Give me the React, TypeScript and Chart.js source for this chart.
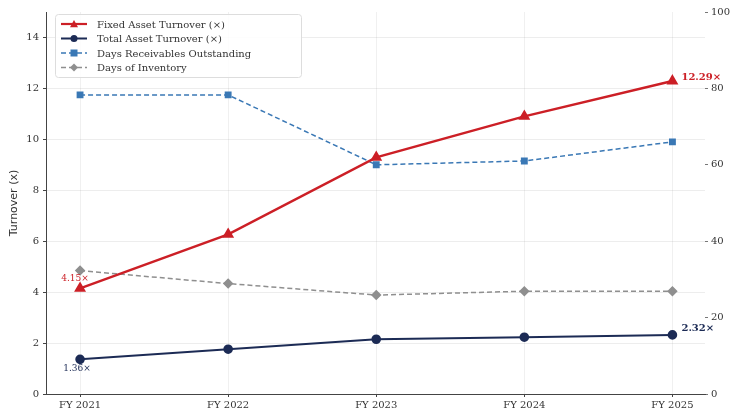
import React, { useEffect, useRef } from "react";
import { Chart, registerables } from "chart.js";
Chart.register(...registerables);

const categories = ["FY 2021", "FY 2022", "FY 2023", "FY 2024", "FY 2025"];
const fixedAssetTurnover = [4.15, 6.27, 9.29, 10.9, 12.29];
const totalAssetTurnover = [1.36, 1.76, 2.15, 2.23, 2.32];
const daysReceivables = [78.3, 78.3, 60.0, 61.0, 66.0];
const daysInventory = [32.3, 28.9, 25.9, 26.9, 26.9];
const leftTicks = [0, 2, 4, 6, 8, 10, 12, 14];
const rightTicks = [0, 20, 40, 60, 80, 100];

const FONT = "'DejaVu Serif', 'Liberation Serif', serif";
const SANS = "'DejaVu Sans', sans-serif";
const RED = "#cc1f26";
const NAVY = "#1c2b55";
const BLUE = "#3a78b5";
const GREY = "#8f8f8f";

const toXY = (arr: number[]) => arr.map((v, i) => ({ x: i, y: v }));

export default function App() {
  const ref = useRef<HTMLCanvasElement | null>(null);
  useEffect(() => {
    document.body.style.margin = "0";
    const ctx = ref.current!.getContext("2d")!;
    const legendItems = [
      { label: "Fixed Asset Turnover (×)", color: RED, style: "triangle", dash: [] as number[], lw: 2.2 },
      { label: "Total Asset Turnover (×)", color: NAVY, style: "circle", dash: [] as number[], lw: 2 },
      { label: "Days Receivables Outstanding", color: BLUE, style: "rect", dash: [5, 3], lw: 1.5 },
      { label: "Days of Inventory", color: GREY, style: "rectRot", dash: [5, 3], lw: 1.5 },
    ];
    function drawMarker(c: CanvasRenderingContext2D, style: string, x: number, y: number, color: string) {
      c.fillStyle = color;
      c.beginPath();
      const r = 4;
      if (style === "triangle") {
        c.moveTo(x, y - r);
        c.lineTo(x + r, y + r * 0.8);
        c.lineTo(x - r, y + r * 0.8);
        c.closePath();
      } else if (style === "circle") {
        c.arc(x, y, r - 0.5, 0, Math.PI * 2);
      } else if (style === "rect") {
        c.rect(x - 3.5, y - 3.5, 7, 7);
      } else {
        c.moveTo(x, y - r);
        c.lineTo(x + r, y);
        c.lineTo(x, y + r);
        c.lineTo(x - r, y);
        c.closePath();
      }
      c.fill();
    }
    const overlay = {
      id: "overlay",
      afterDatasetsDraw(chart: any) {
        const c = chart.ctx;
        const xs = chart.scales.x;
        const yl = chart.scales.y;
        c.save();
        c.textBaseline = "middle";
        c.font = `bold 10px ${FONT}`;
        c.fillStyle = RED;
        c.textAlign = "left";
        c.fillText(`${fixedAssetTurnover[4].toFixed(2)}×`, xs.getPixelForValue(4) + 9, yl.getPixelForValue(fixedAssetTurnover[4]) - 4);
        c.fillStyle = NAVY;
        c.fillText(`${totalAssetTurnover[4].toFixed(2)}×`, xs.getPixelForValue(4) + 9, yl.getPixelForValue(totalAssetTurnover[4]) - 7);
        c.font = `9px ${FONT}`;
        c.textAlign = "center";
        c.fillStyle = RED;
        c.fillText(`${fixedAssetTurnover[0].toFixed(2)}×`, xs.getPixelForValue(0) - 5, yl.getPixelForValue(fixedAssetTurnover[0]) - 10);
        c.fillStyle = NAVY;
        c.fillText(`${totalAssetTurnover[0].toFixed(2)}×`, xs.getPixelForValue(0) - 3, yl.getPixelForValue(totalAssetTurnover[0]) + 9);
        const bx = chart.chartArea.left + 9, by = chart.chartArea.top + 2, bw = 246, bh = 63;
        c.fillStyle = "rgba(255,255,255,0.85)";
        c.strokeStyle = "#dddddd";
        c.lineWidth = 1;
        c.beginPath();
        if (c.roundRect) c.roundRect(bx + 0.5, by + 0.5, bw, bh, 3);
        else c.rect(bx + 0.5, by + 0.5, bw, bh);
        c.fill();
        c.stroke();
        legendItems.forEach((it, i) => {
          const y = by + 10 + i * 14.5;
          const x0 = bx + 6, x1 = bx + 32;
          c.strokeStyle = it.color;
          c.lineWidth = it.lw;
          c.setLineDash(it.dash);
          c.beginPath();
          c.moveTo(x0, y);
          c.lineTo(x1, y);
          c.stroke();
          c.setLineDash([]);
          drawMarker(c, it.style, (x0 + x1) / 2, y, it.color);
          c.fillStyle = "#333";
          c.font = `10px ${FONT}`;
          c.textAlign = "left";
          c.fillText(it.label, bx + 42, y + 1);
        });
        c.restore();
      },
    };
    const chart = new Chart(ctx, {
      type: "line",
      data: {
        datasets: [
          {
            label: "Fixed Asset Turnover (×)",
            data: toXY(fixedAssetTurnover),
            borderColor: RED,
            backgroundColor: RED,
            borderWidth: 2.4,
            pointStyle: "triangle",
            pointRadius: 4.5,
            yAxisID: "y",
          },
          {
            label: "Total Asset Turnover (×)",
            data: toXY(totalAssetTurnover),
            borderColor: NAVY,
            backgroundColor: NAVY,
            borderWidth: 2,
            pointStyle: "circle",
            pointRadius: 3.8,
            yAxisID: "y",
          },
          {
            label: "Days Receivables Outstanding",
            data: toXY(daysReceivables),
            borderColor: BLUE,
            backgroundColor: BLUE,
            borderWidth: 1.5,
            borderDash: [5, 3],
            pointStyle: "rect",
            pointRadius: 3.8,
            yAxisID: "y1",
          },
          {
            label: "Days of Inventory",
            data: toXY(daysInventory),
            borderColor: GREY,
            backgroundColor: GREY,
            borderWidth: 1.5,
            borderDash: [5, 3],
            pointStyle: "rectRot",
            pointRadius: 4.2,
            yAxisID: "y1",
          },
        ],
      },
      options: {
        animation: false,
        responsive: false,
        layout: { padding: { top: 12, left: 0, right: 0, bottom: 0 } },
        plugins: { legend: { display: false }, tooltip: { enabled: false } },
        scales: {
          x: {
            type: "linear",
            min: -0.23,
            max: 4.22,
            afterBuildTicks: (s: any) => {
              s.ticks = categories.map((_, i) => ({ value: i }));
            },
            afterFit: (s: any) => {
              s.height = 17;
            },
            ticks: {
              callback: (v: any) => categories[v] ?? "",
              font: { family: FONT, size: 10 },
              color: "#333",
              maxRotation: 0,
              padding: 2,
            },
            grid: { color: "rgba(0,0,0,0.06)", tickColor: "#444", tickLength: 3 },
            border: { color: "#444", width: 1 },
          },
          y: {
            position: "left",
            min: 0,
            max: 15,
            afterBuildTicks: (s: any) => {
              s.ticks = leftTicks.map((v) => ({ value: v }));
            },
            afterFit: (s: any) => {
              s.width = 46;
            },
            title: { display: true, text: "Turnover (x)", font: { family: SANS, size: 11 }, color: "#333", padding: { top: 8, bottom: 0 } },
            ticks: { font: { family: FONT, size: 10 }, color: "#333", padding: 4 },
            grid: { color: "rgba(0,0,0,0.07)", tickColor: "#444", tickLength: 3 },
            border: { color: "#444", width: 1 },
          },
          y1: {
            position: "right",
            min: 0,
            max: 100,
            afterBuildTicks: (s: any) => {
              s.ticks = rightTicks.map((v) => ({ value: v }));
            },
            afterFit: (s: any) => {
              s.width = 28;
            },
            ticks: { font: { family: FONT, size: 10 }, color: "#333", padding: 3 },
            grid: { drawOnChartArea: false, tickColor: "#777", tickLength: 3 },
            border: { display: false },
          },
        },
      },
      plugins: [overlay],
    } as any);
    return () => chart.destroy();
  }, []);
  return (
    <div style={{ width: 733, height: 411 }}>
      <canvas ref={ref} width={733} height={411} style={{ display: "block" }} />
    </div>
  );
}
